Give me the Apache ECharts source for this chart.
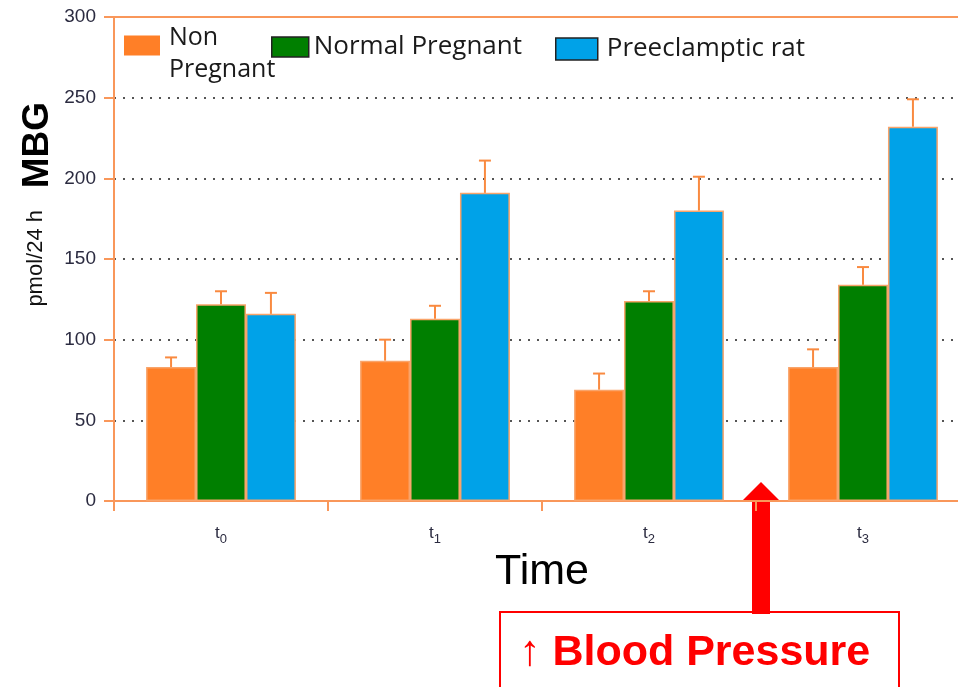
<!DOCTYPE html>
<html>
<head>
<meta charset="utf-8">
<script src="https://cdn.jsdelivr.net/npm/echarts@6/dist/echarts.min.js"></script>
<style>
  html, body { margin: 0; padding: 0; background: #fff; overflow: hidden; }
  #main { width: 980px; height: 687px; }
</style>
</head>
<body>
<div id="main"></div>
<script>
// time points and MBG means (pmol/24 h)
var categories = ['t0', 't1', 't2', 't3'];
var seriesNames = ['Non Pregnant', 'Normal Pregnant', 'Preeclamptic rat'];
var nonPregnant = [83, 87, 69, 83];
var normalPregnant = [122, 113, 124, 134];
var preeclamptic = [116, 191, 180, 232];
// upper ends of the error bars
var nonPregnantErr = [89, 100, 79, 94];
var normalPregnantErr = [130, 121, 130, 145];
var preeclampticErr = [129, 211, 201, 249];
var yTicks = [0, 50, 100, 150, 200, 250, 300];

var colors = ['#FF7F27', '#007F00', '#00A2E8'];
var orangeLine = '#F9975A';
var legendFont = 'Open Sans';

var chart = echarts.init(document.getElementById('main'));

var means = [nonPregnant, normalPregnant, preeclamptic];
var uppers = [nonPregnantErr, normalPregnantErr, preeclampticErr];
var errData = [];
for (var s = 0; s < 3; s++) {
  for (var i = 0; i < categories.length; i++) {
    errData.push([i, s, means[s][i], uppers[s][i]]);
  }
}

function legendFor(idx, left, top, extra) {
  return Object.assign({
    data: [seriesNames[idx]],
    left: left,
    top: top,
    itemWidth: 37,
    itemHeight: 20,
    itemGap: 0,
    icon: 'rect',
    selectedMode: false,
    textStyle: { fontFamily: legendFont, fontSize: 26, color: '#1a1a1a', padding: [0, 0, 0, 0] },
    itemStyle: { borderColor: idx === 0 ? 'transparent' : '#222', borderWidth: idx === 0 ? 0 : 1.5 }
  }, extra || {});
}

var option = {
  animation: false,
  backgroundColor: '#fff',
  grid: { left: 114, top: 17, width: 856, height: 484 },
  legend: [
    legendFor(0, 119, 8, {
      itemWidth: 36,
      formatter: function () { return '{s| }\n{a|Non}\n{a|Pregnant}'; },
      textStyle: {
        padding: [0, 0, 0, 4],
        rich: {
          s: { fontSize: 1, lineHeight: 16 },
          a: { fontFamily: legendFont, fontSize: 25, color: '#1a1a1a', lineHeight: 32 }
        }
      }
    }),
    legendFor(1, 266, 29),
    legendFor(2, 550, 31, { itemWidth: 42, itemHeight: 22,
      textStyle: { fontFamily: legendFont, fontSize: 26, color: '#1a1a1a', padding: [0, 0, 0, 4] } })
  ],
  xAxis: [{
    type: 'category',
    data: categories,
    axisLine: { lineStyle: { color: orangeLine, width: 2 } },
    axisTick: { show: true, length: 10, lineStyle: { color: orangeLine, width: 2 } },
    axisLabel: {
      margin: 20,
      formatter: function (v) { return '{t|t}{s|' + v.charAt(1) + '}'; },
      rich: {
        t: { fontFamily: 'Liberation Sans', fontSize: 17, color: '#2b2b40' },
        s: { fontFamily: 'Liberation Sans', fontSize: 13, color: '#2b2b40', padding: [12, 0, 0, 0] }
      }
    },
    name: 'Time',
    nameLocation: 'middle',
    nameGap: 45,
    nameTextStyle: { fontFamily: 'Liberation Sans', fontSize: 43, color: '#000' }
  }, {
    type: 'category',
    position: 'top',
    data: categories,
    axisLine: { lineStyle: { color: orangeLine, width: 2 } },
    axisTick: { show: false },
    axisLabel: { show: false }
  }],
  yAxis: {
    type: 'value',
    min: yTicks[0],
    max: yTicks[yTicks.length - 1],
    interval: 50,
    axisLine: { show: true, lineStyle: { color: orangeLine, width: 2 } },
    axisTick: { show: true, length: 10, lineStyle: { color: orangeLine, width: 2 } },
    axisLabel: { margin: 18, fontFamily: 'Liberation Sans', fontSize: 19, color: '#2b2b40' },
    splitLine: { show: true, lineStyle: { color: '#555', width: 2, type: [2, 7] } }
  },
  series: [0, 1, 2].map(function (s) {
    return {
      name: seriesNames[s],
      type: 'bar',
      data: means[s],
      barGap: 0,
      barCategoryGap: '30%',
      itemStyle: { color: colors[s], borderColor: '#F9A46A', borderWidth: 1.5 }
    };
  }).concat([{
    type: 'custom',
    data: errData,
    z: 5,
    renderItem: function (params, api) {
      var cat = api.value(0);
      var s = api.value(1);
      var band = api.size([1, 0])[0];
      var bw = band * 0.7 / 3;
      var base = api.coord([cat, api.value(2)]);
      var top = api.coord([cat, api.value(3)]);
      var x = base[0] + (s - 1) * bw;
      var style = { stroke: '#F98A40', lineWidth: 2 };
      return {
        type: 'group',
        children: [
          { type: 'line', shape: { x1: x, y1: base[1], x2: x, y2: top[1] }, style: style },
          { type: 'line', shape: { x1: x - 6, y1: top[1], x2: x + 6, y2: top[1] }, style: style }
        ]
      };
    }
  }]),
  graphic: [
    { type: 'text', left: 19, top: 102, rotation: Math.PI / 2,
      style: { text: 'MBG', font: 'bold 37px "Liberation Sans"', fill: '#000' } },
    { type: 'text', left: 25, top: 210, rotation: Math.PI / 2,
      style: { text: 'pmol/24 h', font: '22px "Liberation Sans"', fill: '#111' } },
    // red arrow pointing at the gap before t3
    { type: 'polygon', shape: { points: [[761, 482], [780, 501], [770, 501], [770, 614], [752, 614], [752, 501], [742, 501]] },
      style: { fill: '#FF0000' } },
    { type: 'rect', shape: { x: 500, y: 612, width: 399, height: 90 },
      style: { fill: 'none', stroke: '#FF0000', lineWidth: 2 } },
    { type: 'text', x: 519, y: 632,
      style: { text: '↑ Blood Pressure', font: 'bold 43px "Liberation Sans"', fill: '#FF0000' } }
  ]
};

chart.setOption(option);
</script>
</body>
</html>
